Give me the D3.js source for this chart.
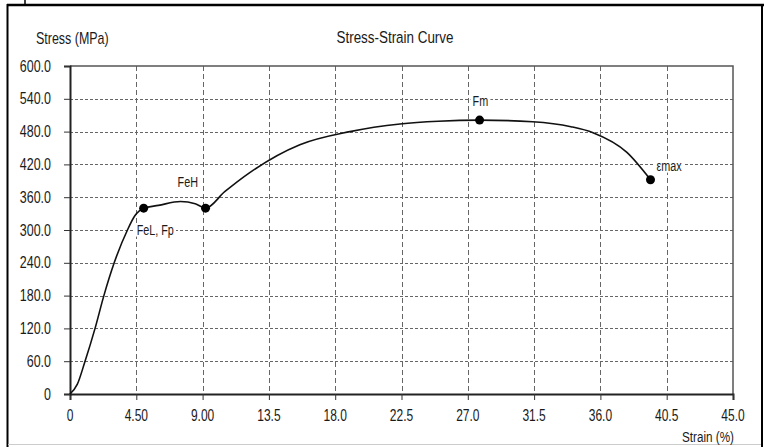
<!DOCTYPE html>
<html>
<head>
<meta charset="utf-8">
<script src="https://cdn.jsdelivr.net/npm/d3@7"></script>
<style>
  html, body { margin: 0; padding: 0; background: #fff; }
  svg { display: block; }
  text { font-family: "Liberation Sans", Arial, sans-serif; fill: #1a1a1a; }
</style>
</head>
<body>
<svg id="chart" width="764" height="447"></svg>
<script>
// Stress-strain test record
const strain = [0, 0.5, 1.0, 1.7, 2.3, 3.0, 3.9, 4.4, 5.0, 6.0, 7.5, 8.5, 9.2, 10.5, 12.2, 15.6, 19.0, 22.4, 25.0, 27.8, 31.4, 34.0, 35.5, 37.8, 39.4];
const stress = [0, 18, 58, 120, 180, 240, 300, 326, 340, 345, 352, 348, 340, 370, 405, 456, 480, 494, 499, 501, 498, 489, 478, 442, 392];

// Characteristic points
const pointNames = ["FeL, Fp", "FeH", "Fm", "εmax"];
const pointStrain = [5.0, 9.2, 27.8, 39.4];
const pointStress = [340, 340, 501, 392];

// Axis ticks
const xTicks = [0, 4.5, 9, 13.5, 18, 22.5, 27, 31.5, 36, 40.5, 45];
const xTickLabels = ["0", "4.50", "9.00", "13.5", "18.0", "22.5", "27.0", "31.5", "36.0", "40.5", "45.0"];
const yTicks = [0, 60, 120, 180, 240, 300, 360, 420, 480, 540, 600];
const yTickLabels = ["0", "60.0", "120.0", "180.0", "240.0", "300.0", "360.0", "420.0", "480.0", "540.0", "600.0"];

const svg = d3.select("#chart");
const W = 764, H = 447;
const plot = { left: 70, right: 733, top: 66, bottom: 394 };

const x = d3.scaleLinear().domain([0, 45]).range([plot.left, plot.right]);
const y = d3.scaleLinear().domain([0, 600]).range([plot.bottom, plot.top]);

// Condensed text helper: places text at (px, py) and squeezes it horizontally
function narrowText(parent, px, py, str, size, squeeze, anchor) {
  return parent.append("text")
    .attr("transform", `translate(${px},${py}) scale(${squeeze},1)`)
    .attr("x", 0).attr("y", 0)
    .attr("font-size", size)
    .attr("text-anchor", anchor || "start")
    .text(str);
}

// Outer frame
svg.append("line").attr("x1", 7).attr("x2", W).attr("y1", 5).attr("y2", 5)
  .attr("stroke", "#000").attr("stroke-width", 2.5);
svg.append("line").attr("x1", 7.5).attr("x2", 7.5).attr("y1", 4).attr("y2", H)
  .attr("stroke", "#000").attr("stroke-width", 2);
svg.append("line").attr("x1", 762).attr("x2", 762).attr("y1", 4).attr("y2", H)
  .attr("stroke", "#000").attr("stroke-width", 2);
svg.append("line").attr("x1", 25).attr("x2", 25).attr("y1", 0).attr("y2", 5)
  .attr("stroke", "#000").attr("stroke-width", 1.5);
svg.append("line").attr("x1", 8).attr("x2", 761).attr("y1", 444.5).attr("y2", 444.5)
  .attr("stroke", "#ccc").attr("stroke-width", 1);

// Grid
const grid = svg.append("g").attr("stroke", "#666").attr("stroke-width", 1);
grid.selectAll("line.h").data(yTicks.filter(d => d > 0 && d < 600)).join("line")
  .attr("stroke-dasharray", "3,2")
  .attr("x1", plot.left).attr("x2", plot.right)
  .attr("y1", d => Math.round(y(d)) + 0.5).attr("y2", d => Math.round(y(d)) + 0.5);
grid.selectAll("line.v").data(xTicks.filter(d => d > 0 && d < 45)).join("line")
  .attr("stroke-dasharray", "5,3")
  .attr("y1", plot.top).attr("y2", plot.bottom)
  .attr("x1", d => Math.round(x(d)) + 0.5).attr("x2", d => Math.round(x(d)) + 0.5);

// Plot border (top and right)
svg.append("path")
  .attr("d", `M${plot.left},${plot.top}H${plot.right}V${plot.bottom}`)
  .attr("fill", "none").attr("stroke", "#555").attr("stroke-width", 1.5);

// Axes: lines and tick marks from d3.axis, labels drawn condensed
const gx = svg.append("g").attr("transform", `translate(0,${plot.bottom})`)
  .call(d3.axisBottom(x).tickValues(xTicks).tickSize(6).tickFormat(""));
gx.select(".domain").attr("stroke", "#222").attr("stroke-width", 2);
gx.selectAll(".tick line").attr("stroke", "#333");

const gy = svg.append("g").attr("transform", `translate(${plot.left},0)`)
  .call(d3.axisLeft(y).tickValues(yTicks).tickSize(6).tickFormat(""));
gy.select(".domain").attr("stroke", "#222").attr("stroke-width", 2);
gy.selectAll(".tick line").attr("stroke", "#333");

const xl = svg.append("g");
xTicks.forEach((d, i) => narrowText(xl, x(d), plot.bottom + 27, xTickLabels[i], 16, 0.75, "middle"));
const yl = svg.append("g");
yTicks.forEach((d, i) => narrowText(yl, plot.left - 19, y(d) + 5.5, yTickLabels[i], 16, 0.78, "end"));

// Curve
const curveData = strain.map((s, i) => [s, stress[i]]);
svg.append("path")
  .datum(curveData)
  .attr("fill", "none").attr("stroke", "#111").attr("stroke-width", 1.6)
  .attr("d", d3.line().x(d => x(d[0])).y(d => y(d[1])).curve(d3.curveMonotoneX));

// Key points
const pts = pointNames.map((n, i) => ({ name: n, s: pointStrain[i], v: pointStress[i] }));
svg.selectAll("circle.pt").data(pts).join("circle")
  .attr("cx", d => x(d.s)).attr("cy", d => y(d.v)).attr("r", 4.5).attr("fill", "#000");

// Point labels with a white backing so grid lines break around them
const labelPos = [
  { dx: -7, dy: 27 },
  { dx: -28, dy: -21 },
  { dx: -7, dy: -14 },
  { dx: 6, dy: -8.5 }
];
const lbl = svg.append("g");
pts.forEach((d, i) => {
  const t = narrowText(lbl, x(d.s) + labelPos[i].dx, y(d.v) + labelPos[i].dy, d.name, 15, 0.72);
  const b = t.node().getBBox();
  lbl.insert("rect", "text")
    .attr("transform", t.attr("transform"))
    .attr("x", b.x - 3).attr("y", b.y + 2).attr("width", b.width + 6).attr("height", b.height - 4)
    .attr("fill", "#fff");
});

// Titles
narrowText(svg, 36, 44, "Stress (MPa)", 16, 0.78);
narrowText(svg, 395, 43, "Stress-Strain Curve", 17, 0.79, "middle");
narrowText(svg, 734, 442, "Strain (%)", 15, 0.78, "end");
</script>
</body>
</html>
